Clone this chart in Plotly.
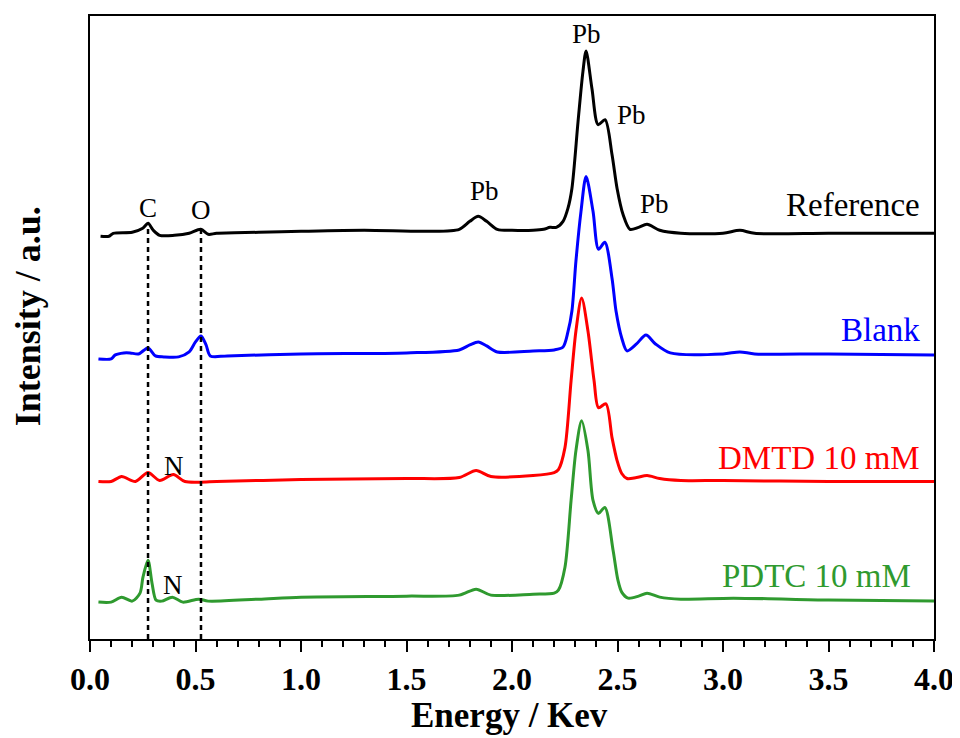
import plotly.graph_objects as go

# ---------------- data (energy in keV, intensity in arbitrary units incl. vertical offset) -------------
ref_x = [0.05, 0.09, 0.11, 0.20, 0.25, 0.275, 0.30, 0.33, 0.40, 0.47, 0.525, 0.56, 0.60, 0.80, 1.00, 1.30,
         1.60, 1.75, 1.80, 1.84, 1.88, 1.93, 2.00, 2.10, 2.15, 2.18, 2.21, 2.242, 2.265, 2.284, 2.313, 2.336,
         2.351, 2.379, 2.408, 2.441, 2.474, 2.498, 2.526, 2.559, 2.60, 2.64, 2.70, 2.80, 3.00, 3.08, 3.15, 3.50, 4.00]
ref_y = [404, 404, 407, 408, 412, 417, 410, 405, 405, 407, 411, 406, 407, 408, 409, 410,
         409, 411, 419, 424, 419, 411, 410, 410, 411, 413, 413, 419, 432, 452, 519, 569,
         590, 552, 516, 521, 486, 452, 426, 411, 413, 416, 410, 407, 407, 410, 407, 407, 407]

blank_x = [0.04, 0.10, 0.12, 0.16, 0.19, 0.23, 0.275, 0.31, 0.35, 0.42, 0.47, 0.50, 0.526, 0.55, 0.57, 0.65,
           1.00, 1.50, 1.75, 1.80, 1.84, 1.88, 1.93, 2.10, 2.20, 2.242, 2.265, 2.284, 2.303, 2.327, 2.351,
           2.384, 2.41, 2.44, 2.474, 2.493, 2.52, 2.545, 2.59, 2.635, 2.68, 2.75, 3.00, 3.08, 3.15, 3.50, 4.00]
blank_y = [281, 281, 285, 287, 287, 286, 292, 284, 283, 283, 288, 298, 304, 295, 284, 284,
           286, 287, 290, 295, 298, 294, 288, 289, 290, 293, 308, 329, 379, 429, 464,
           429, 391, 398, 362, 329, 302, 289, 296, 305, 296, 287, 286, 288, 286, 286, 285]

dmtd_x = [0.04, 0.10, 0.15, 0.215, 0.275, 0.33, 0.395, 0.45, 0.60, 1.00, 1.50, 1.75, 1.83, 1.90, 2.10,
          2.20, 2.22, 2.251, 2.28, 2.303, 2.33, 2.36, 2.389, 2.41, 2.445, 2.474, 2.498, 2.52, 2.545,
          2.59, 2.64, 2.70, 2.80, 3.00, 3.50, 4.00]
dmtd_y = [158, 158, 163, 158, 167, 159, 165, 158, 158, 160, 161, 162, 169, 163, 164,
          167, 170, 192, 259, 309, 342, 309, 259, 232, 236, 202, 179, 166, 161,
          162, 164, 161, 159, 159, 158, 158]

pdtc_x = [0.04, 0.10, 0.15, 0.20, 0.237, 0.251, 0.275, 0.294, 0.313, 0.34, 0.39, 0.44, 0.515, 0.56, 0.80,
          1.00, 1.50, 1.75, 1.83, 1.90, 2.10, 2.20, 2.22, 2.251, 2.28, 2.303, 2.33, 2.36, 2.384, 2.41,
          2.44, 2.479, 2.502, 2.52, 2.55, 2.60, 2.64, 2.70, 2.80, 3.05, 3.50, 4.00]
pdtc_y = [37, 37, 42, 38, 46, 62, 79, 56, 39, 38, 42, 37, 40, 38, 40,
          42, 43, 44, 50, 44, 45, 46, 49, 72, 139, 189, 219, 189, 139, 126,
          132, 89, 59, 47, 41, 43, 46, 42, 40, 41, 39, 38]

series_names = ["Reference", "Blank", "DMTD 10 mM", "PDTC 10 mM"]
series_colors = ["#000000", "#0000ff", "#ff0000", "#2f9a2f"]
series_label_y = [435, 310, 182, 63]
series_label_x = [3.945, 3.945, 3.945, 3.90]

guide_x = [0.275, 0.526]
guide_top = [417, 411]

peak_labels = ["C", "O", "Pb", "Pb", "Pb", "Pb", "N", "N"]
peak_label_x = [0.275, 0.528, 1.87, 2.355, 2.567, 2.673, 0.40, 0.395]
peak_label_y = [432, 430, 449, 607, 526, 436, 174, 54]
peak_label_size = [27, 27, 27, 27, 27, 27, 27, 27]

x_ticks = [0.0, 0.5, 1.0, 1.5, 2.0, 2.5, 3.0, 3.5, 4.0]

FONT = "Liberation Serif"

fig = go.Figure()

for xs, ys, name, col in zip([ref_x, blank_x, dmtd_x, pdtc_x], [ref_y, blank_y, dmtd_y, pdtc_y],
                             series_names, series_colors):
    fig.add_trace(go.Scatter(x=xs, y=ys, mode="lines", name=name,
                             line=dict(color=col, width=3, shape="spline", smoothing=0.8)))

for gx, gt in zip(guide_x, guide_top):
    fig.add_trace(go.Scatter(x=[gx, gx], y=[0, gt], mode="lines",
                             line=dict(color="black", width=2.5, dash="5px,4px"), showlegend=False))

for name, col, lx, ly in zip(series_names, series_colors, series_label_x, series_label_y):
    fig.add_annotation(x=lx, y=ly, text=name, showarrow=False, xanchor="right", yanchor="middle",
                       font=dict(family=FONT, size=33, color=col))

for t, lx, ly, s in zip(peak_labels, peak_label_x, peak_label_y, peak_label_size):
    fig.add_annotation(x=lx, y=ly, text=t, showarrow=False, xanchor="center", yanchor="middle",
                       font=dict(family=FONT, size=s, color="black"))

# axis titles as annotations (positioned like the reference)
fig.add_annotation(xref="paper", yref="paper", x=-0.0735, y=0.518, text="<b>Intensity / a.u.</b>",
                   textangle=-90, showarrow=False, xanchor="center", yanchor="middle",
                   font=dict(family=FONT, size=36, color="black"))
fig.add_annotation(xref="paper", yref="paper", x=0.497, y=-0.1224, text="<b>Energy / Kev</b>",
                   showarrow=False, xanchor="center", yanchor="middle", borderpad=0,
                   font=dict(family=FONT, size=35, color="black"))

fig.update_layout(
    width=960, height=738,
    margin=dict(l=82, r=34, t=6, b=107),
    paper_bgcolor="white", plot_bgcolor="white",
    showlegend=False,
    font=dict(family=FONT, color="black"),
)

fig.update_xaxes(
    range=[0, 4.0], tickvals=x_ticks, ticktext=[f"<b>{v:.1f}</b>" for v in x_ticks],
    ticks="outside", ticklen=11, tickwidth=2, tickcolor="black",
    minor=dict(dtick=0.1, ticks="outside", ticklen=6, tickwidth=2, tickcolor="black"),
    showline=True, linecolor="black", linewidth=2, mirror=True, showgrid=False, zeroline=False,
    tickfont=dict(family=FONT, size=32, color="black"),
)
fig.update_yaxes(
    range=[0, 625], showticklabels=False, ticks="", showgrid=False, zeroline=False,
    showline=True, linecolor="black", linewidth=2, mirror=True,
)

fig.write_html("out.html")
